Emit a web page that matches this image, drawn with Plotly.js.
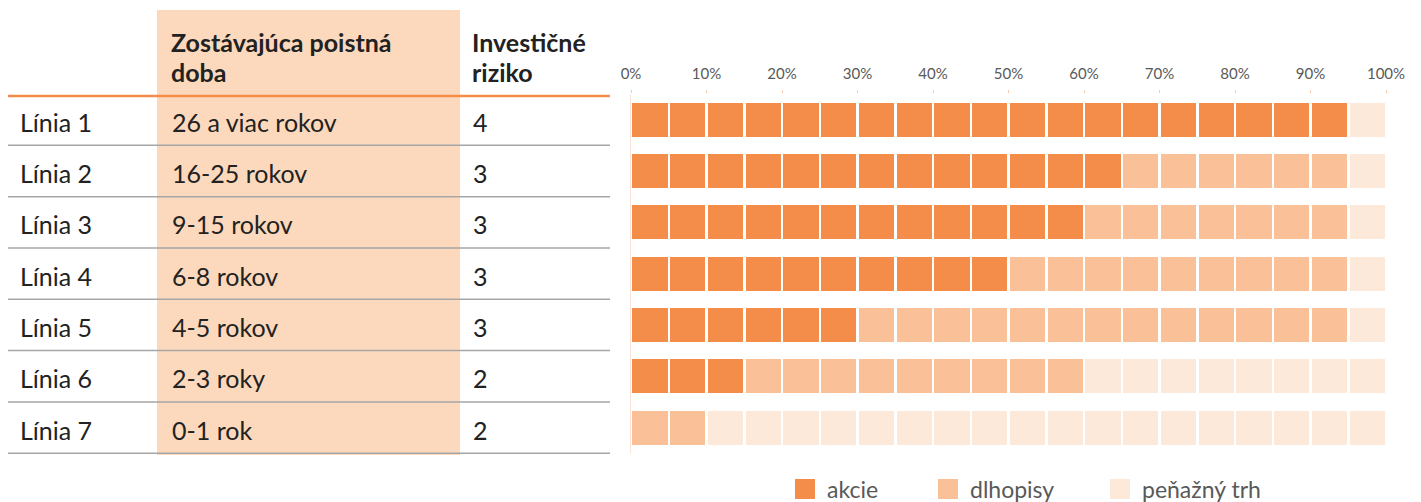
<!DOCTYPE html>
<html>
<head>
<meta charset="utf-8">
<script src="https://cdn.plot.ly/plotly-3.0.1.min.js"></script>
<style>html,body{margin:0;padding:0;background:#fff;}#chart{width:1421px;height:502px;}</style>
</head>
<body>
<div id="chart"></div>
<script>
// ---- data ----
var lines = ['Línia 1','Línia 2','Línia 3','Línia 4','Línia 5','Línia 6','Línia 7'];
var doba = ['26 a viac rokov','16-25 rokov','9-15 rokov','6-8 rokov','4-5 rokov','2-3 roky','0-1 rok'];
var riziko = ['4','3','3','3','3','2','2'];
var akcie = [95,65,60,50,30,15,0];
var dlhopisy = [0,30,35,45,65,45,10];
var penazny = [5,5,5,5,5,40,90];
var seriesNames = ['akcie','dlhopisy','peňažný trh'];
var headerDoba = ['Zostávajúca poistná','doba'];
var headerRiziko = ['Investičné','riziko'];
var xTicks = [0,10,20,30,40,50,60,70,80,90,100];
var xTickLabels = ['0%','10%','20%','30%','40%','50%','60%','70%','80%','90%','100%'];
var blockSize = 5;

// ---- style ----
var colors = ['#F58D4A','#FAC198','#FDE9DA'];
var W = 1421, H = 502;
var M = {l:631, r:35, t:94, b:48, autoexpand:false};
var PW = W - M.l - M.r, PH = H - M.t - M.b;
function px2x(px){ return (px - M.l) / PW; }
function py2y(py){ return (H - M.b - py) / PH; }
var textFont = 'Lato, "Open Sans", sans-serif';

// ---- bar blocks ----
var traces = [];
var nBlocks = Math.round(100 / blockSize);
for (var k = 0; k < nBlocks; k++) {
  var start = k * blockSize;
  var xs = [], cs = [], names = [];
  for (var i = 0; i < lines.length; i++) {
    var total = akcie[i] + dlhopisy[i] + penazny[i];
    if (start >= total) { xs.push(0); cs.push('rgba(0,0,0,0)'); names.push(''); continue; }
    var s = start < akcie[i] ? 0 : (start < akcie[i] + dlhopisy[i] ? 1 : 2);
    xs.push(blockSize); cs.push(colors[s]); names.push(seriesNames[s]);
  }
  traces.push({
    type:'bar', orientation:'h', y: lines, x: xs,
    marker:{color: cs, line:{color:'#ffffff', width:2.5}},
    text: names, hovertemplate:'%{y}: %{text}<extra></extra>',
    textposition:'none', showlegend:false
  });
}
// legend entries (one legend box per series, to place them like the original)
var legendIds = ['legend','legend2','legend3'];
var legendLeft = [783, 926, 1098];
for (var s = 0; s < seriesNames.length; s++) {
  traces.push({
    type:'scatter', mode:'markers', x:[null], y:[null], name: seriesNames[s], legend: legendIds[s],
    marker:{symbol:'square', size:16, color: colors[s], line:{color: colors[s], width:4}},
    showlegend:true, hoverinfo:'skip'
  });
}

// ---- table (shapes + annotations) ----
var shapes = [];
var annotations = [];
shapes.push({type:'rect', xref:'paper', yref:'paper', x0:px2x(157), x1:px2x(460), y0:py2y(455), y1:py2y(10),
  fillcolor:'#FCD9BC', line:{width:0}, layer:'below'});
shapes.push({type:'line', xref:'paper', yref:'paper', x0:px2x(8), x1:px2x(610), y0:py2y(96), y1:py2y(96),
  line:{color:'#F58D4A', width:2.5}});
for (var i = 0; i < lines.length; i++) {
  shapes.push({type:'line', xref:'paper', yref:'y', x0:px2x(8), x1:px2x(610), y0:i+0.5, y1:i+0.5,
    line:{color:'#A6A6A6', width:1.5}});
  var cols = [[18, lines[i]], [170, doba[i]], [471, riziko[i]]];
  cols.forEach(function(c){
    annotations.push({xref:'paper', yref:'y', x:px2x(c[0]), y:lines[i], xanchor:'left', yanchor:'middle',
      yshift:-2, text:c[1], showarrow:false, font:{family:textFont, size:25, color:'#222222'}});
  });
}
[[169, headerDoba],[470, headerRiziko]].forEach(function(h){
  annotations.push({xref:'paper', yref:'paper', x:px2x(h[0]), y:py2y(42), xanchor:'left', yanchor:'middle',
    text:'<b>'+h[1][0]+'</b>', showarrow:false, font:{family:textFont, size:25, color:'#222222'}});
  annotations.push({xref:'paper', yref:'paper', x:px2x(h[0]), y:py2y(72), xanchor:'left', yanchor:'middle',
    text:'<b>'+h[1][1]+'</b>', showarrow:false, font:{family:textFont, size:25, color:'#222222'}});
});

var layout = {
  width:W, height:H, margin:M, paper_bgcolor:'#fff', plot_bgcolor:'#fff',
  barmode:'stack', bargap:0.29, showlegend:true,
  font:{family:textFont},
  xaxis:{side:'top', range:[0,100], tickmode:'array', tickvals:xTicks, ticktext:xTickLabels,
    showgrid:false, zeroline:false,
    ticks:'outside', ticklen:3, tickcolor:'#F8CBAD', ticklabelstandoff:5,
    tickfont:{family:textFont, size:15, color:'#595959'}, fixedrange:true},
  yaxis:{type:'category', categoryorder:'array', categoryarray:lines, autorange:'reversed',
    showticklabels:false, showgrid:false, zeroline:false, showline:true, linecolor:'#FCE4D6', linewidth:1,
    ticks:'', fixedrange:true},
  shapes:shapes, annotations:annotations
};
legendIds.forEach(function(id, s){
  layout[id] = {orientation:'h', x:px2x(legendLeft[s]), xanchor:'left', y:py2y(489), yanchor:'middle',
    itemwidth:34, font:{family:textFont, size:23, color:'#595959'}, bgcolor:'rgba(0,0,0,0)'};
});
Plotly.newPlot('chart', traces, layout, {displayModeBar:false});
</script>
</body>
</html>
